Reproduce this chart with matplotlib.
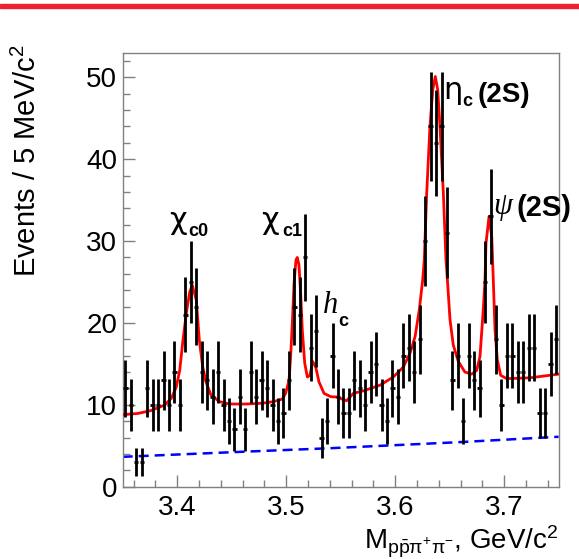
import numpy as np
import matplotlib
matplotlib.use('Agg')
import matplotlib.pyplot as plt
from matplotlib.patches import Rectangle
from matplotlib.ticker import MultipleLocator

plt.rcParams['font.family'] = ['Liberation Sans', 'DejaVu Sans']
plt.rcParams['mathtext.fontset'] = 'custom'
plt.rcParams['mathtext.rm'] = 'Liberation Sans'
plt.rcParams['mathtext.it'] = 'Liberation Sans:italic'
plt.rcParams['mathtext.bf'] = 'Liberation Sans:bold'

# events per 5 MeV bin, 3.35 - 3.75 GeV
bin_lo = 3.35
bin_w = 0.005
counts = [12, 10, 3, 3, 12, 10, 10, 13, 10, 14,
          10, 21, 25, 22, 14, 13, 11, 14, 10, 8,
          7, 11, 7, 14, 11, 13, 12, 10, 8, 9,
          13, 22, 21, 28, 17, 19, 6, 8, 16, 11,
          9, 9, 13, 12, 10, 14, 15, 10, 8, 12,
          11, 16, 17, 14, 18, 30, 44, 42, 44, 31,
          13, 16, 8, 16, 13, 12, 25, 33, 18, 10,
          16, 16, 14, 14, 17, 17, 9, 9, 15, 18]

# total fit (red)
fit_m = [3.350, 3.364, 3.376, 3.3885, 3.3946, 3.3992, 3.4023, 3.4053, 3.4084, 3.4115,
         3.4139, 3.4175, 3.4203, 3.4234, 3.4264, 3.4310, 3.4386, 3.4478, 3.4631, 3.4784,
         3.4888, 3.4964, 3.4995, 3.5026, 3.5041, 3.5056, 3.5072, 3.5090, 3.5102, 3.5117,
         3.5133, 3.5148, 3.5170, 3.5194, 3.5218, 3.5243, 3.5271, 3.5301, 3.5347, 3.5408,
         3.5469, 3.5530, 3.5555, 3.5616, 3.5707, 3.5861, 3.5983, 3.6074, 3.6136, 3.6182,
         3.6221, 3.6252, 3.6267, 3.6289, 3.6319, 3.6345, 3.6368, 3.6390, 3.6411, 3.6442,
         3.6466, 3.6473, 3.6503, 3.6533, 3.6579, 3.6640, 3.6702, 3.6748, 3.6778, 3.6808,
         3.6824, 3.6833, 3.6861, 3.6886, 3.6900, 3.6916, 3.6937, 3.6968, 3.7023, 3.7237,
         3.7500]
fit_y = [8.8, 8.95, 9.3, 9.97, 10.8, 12.2, 14.2, 17.9, 21.2, 23.8,
         24.6, 22.8, 17.9, 14.65, 12.8, 11.2, 10.4, 10.1, 10.1, 10.2,
         10.4, 10.7, 11.4, 13.0, 15.9, 19.9, 24.8, 27.7, 28.0, 27.1,
         23.6, 19.1, 15.1, 13.4, 13.6, 15.3, 14.6, 12.8, 11.4, 11.0,
         10.95, 10.6, 10.5, 11.4, 11.7, 12.4, 13.4, 14.6, 16.3, 18.3,
         21.6, 25.2, 27.7, 35.8, 44.0, 48.5, 50.1, 48.5, 44.0, 35.8,
         27.7, 26.5, 20.4, 17.3, 15.3, 14.0, 13.75, 14.2, 15.9, 21.6,
         25.2, 29.7, 33.0, 30.5, 25.3, 19.1, 15.5, 13.6, 13.2, 13.3,
         13.75]

# background (blue dashed)
bkg_m = [3.35, 3.46, 3.54, 3.66, 3.75]
bkg_y = [3.65, 4.27, 4.70, 5.45, 6.10]

centers = bin_lo + bin_w * (np.arange(len(counts)) + 0.5)
counts = np.array(counts)
errs = np.sqrt(counts)

fig = plt.figure(figsize=(5.79, 5.59), dpi=100)
ax = fig.add_axes([0.2119, 0.1293, 0.7530, 0.7764])

# red line on top of the page
fig.patches.append(Rectangle((0, 0.9855), 1, 0.0068, transform=fig.transFigure,
                             color='#ec2330', zorder=5))

ax.plot(bkg_m, bkg_y, color='#0000ff', lw=1.8, dashes=(4, 2.4), zorder=2)
ax.plot(fit_m, fit_y, color='#ff0000', lw=2, zorder=3)
ax.errorbar(centers, counts, yerr=errs, xerr=0.002, fmt='none',
            ecolor='black', elinewidth=2, capsize=0, zorder=4)

ax.set_xlim(3.35, 3.75)
ax.set_ylim(0, 53)
ax.xaxis.set_major_locator(MultipleLocator(0.1))
ax.xaxis.set_minor_locator(MultipleLocator(0.02))
ax.yaxis.set_major_locator(MultipleLocator(10))
ax.yaxis.set_minor_locator(MultipleLocator(2))
ax.tick_params(which='both', direction='in', color='#808080', width=1,
               top=False, right=False, labelsize=20)
ax.tick_params(which='major', length=8.6)
ax.tick_params(which='minor', length=4.7)
ax.tick_params(axis='y', pad=4)
ax.tick_params(axis='x', pad=6)
ax.xaxis.set_major_formatter(plt.FuncFormatter(lambda v, p: f'{v:.1f}'))
for s in ax.spines.values():
    s.set_color('#808080')
    s.set_linewidth(1)

# peak labels
sym = dict(family=['DejaVu Sans'], fontsize=22)
sub = dict(fontsize=13, fontweight='bold')
ax.text(3.3930, 30.7, 'χ', ha='left', va='bottom', **sym)
ax.text(3.4101, 30.1, 'c0', ha='left', va='bottom', **sub)
ax.text(3.4772, 30.7, 'χ', ha='left', va='bottom', **sym)
ax.text(3.4962, 30.1, 'c1', ha='left', va='bottom', **sub)
ax.text(3.6440, 46.6, 'η', ha='left', va='bottom', **sym)
ax.text(3.6618, 46.0, 'c', ha='left', va='bottom', **sub)
ax.text(3.6755, 46.3, '(2S)', ha='left', va='bottom', fontsize=20, fontweight='bold')
ax.text(3.6898, 32.5, 'ψ', ha='left', va='bottom', fontsize=22, style='italic',
        family=['Liberation Serif', 'DejaVu Serif'])
ax.text(3.7117, 32.3, '(2S)', ha='left', va='bottom', fontsize=21, fontweight='bold')
ax.text(3.5338, 20.3, 'h', ha='left', va='bottom', fontsize=22, style='italic',
        family=['Liberation Serif', 'DejaVu Serif'])
ax.text(3.5475, 19.1, 'c', ha='left', va='bottom', **sub)

fig.text(0.9649, 1 - 550 / 559, r'M$_{\mathrm{p\bar{p}\pi^{+}\pi^{-}}}$, GeV/c$^{2}$',
         ha='right', va='baseline', fontsize=20)
fig.text(27 / 579, 1 - 161 / 559, r'Events / 5 MeV/c$^{2}$', rotation=90,
         ha='center', va='center', fontsize=21)

fig.savefig('out.png', dpi=100)
